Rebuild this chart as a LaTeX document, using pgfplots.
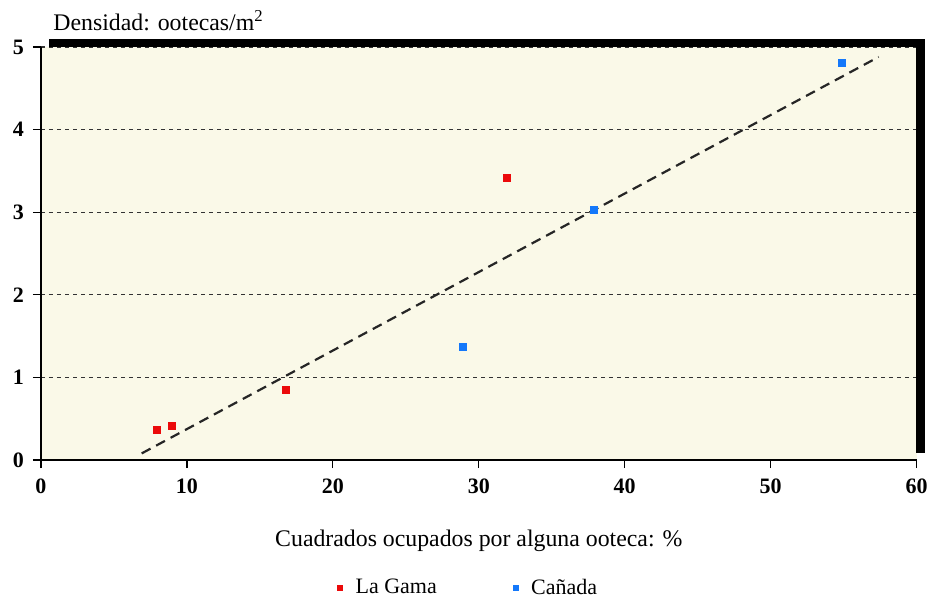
\documentclass[border=0pt]{standalone}
\usepackage{pgfplots}
\pgfplotsset{compat=1.18}
\usepackage{fontspec}
\setmainfont{Liberation Serif}
\definecolor{bgc}{RGB}{250,249,232}
\definecolor{redp}{RGB}{235,10,10}
\definecolor{bluep}{RGB}{20,120,250}
\begin{document}
\begin{tikzpicture}
\begin{axis}[
  name=ax,
  scale only axis,
  width=437.8pt, height=206.5pt,
  xmin=0, xmax=60, ymin=0, ymax=5,
  xtick={0,10,...,60}, ytick={0,1,...,5},
  tick align=outside, major tick length=4pt,
  tick style={black, line width=0.6pt},
  axis line style={line width=0.6pt},
  axis x line*=bottom, axis y line*=left,
  axis background/.style={fill=bgc},
  ymajorgrids, grid style={black!80, line width=0.6pt, dash pattern=on 2.2pt off 1.8pt},
  /pgf/number format/assume math mode=true,
  ticklabel style={font=\fontsize{11}{13}\selectfont\bfseries},
  xticklabel style={yshift=-2pt, inner xsep=0pt},
  yticklabel style={xshift=-1pt},
  xlabel={Cuadrados ocupados por alguna ooteca: \%},
  xlabel style={font=\fontsize{11.9}{14}\selectfont, at={(axis description cs:0.5,-0.195)}, anchor=center},
  clip=false,
  legend columns=2,
  legend style={draw=none, fill=none, font=\fontsize{11}{13}\selectfont, at={(0.489,-0.31)}, anchor=center, /tikz/every even column/.append style={column sep=36pt}},
  legend image code/.code={\fill[#1] (0pt,-1.3pt) rectangle (2.6pt,1.3pt); \path[draw=none,fill=none] (0pt,0pt) -- (7pt,0pt);},
]
\fill[black] ([xshift=4pt]rel axis cs:0,1) rectangle ([xshift=4pt,yshift=4.2pt]rel axis cs:1,1);
\fill[black] ([xshift=-0.3pt,yshift=4.2pt]rel axis cs:1,1) rectangle ([xshift=4pt,yshift=3.5pt]rel axis cs:1,0);
\addplot[redp, only marks, mark=square*, mark size=1.8pt] coordinates {
 (7.93,0.36) (8.96,0.41) (16.8,0.85) (31.9,3.42)};
\addlegendentry{La Gama}
\addplot[bluep, only marks, mark=square*, mark size=1.8pt] coordinates {
 (28.9,1.37) (37.9,3.03) (54.9,4.81)};
\addlegendentry{Cañada}
\addplot[black!85, line width=1.1pt, dash pattern=on 5pt off 3.2pt, forget plot] coordinates {(6.9,0.08) (57.4,4.88)};
\node[anchor=base west, font=\fontsize{11.9}{14}\selectfont, inner sep=0pt] at ([xshift=6pt,yshift=8.5pt]rel axis cs:0,1) {Densidad: ootecas/m\textsuperscript{2}};
\end{axis}
\path ([xshift=-20.5pt,yshift=-68.5pt]ax.south west) rectangle ([xshift=6.2pt,yshift=23.5pt]ax.north east);
\end{tikzpicture}
\end{document}
